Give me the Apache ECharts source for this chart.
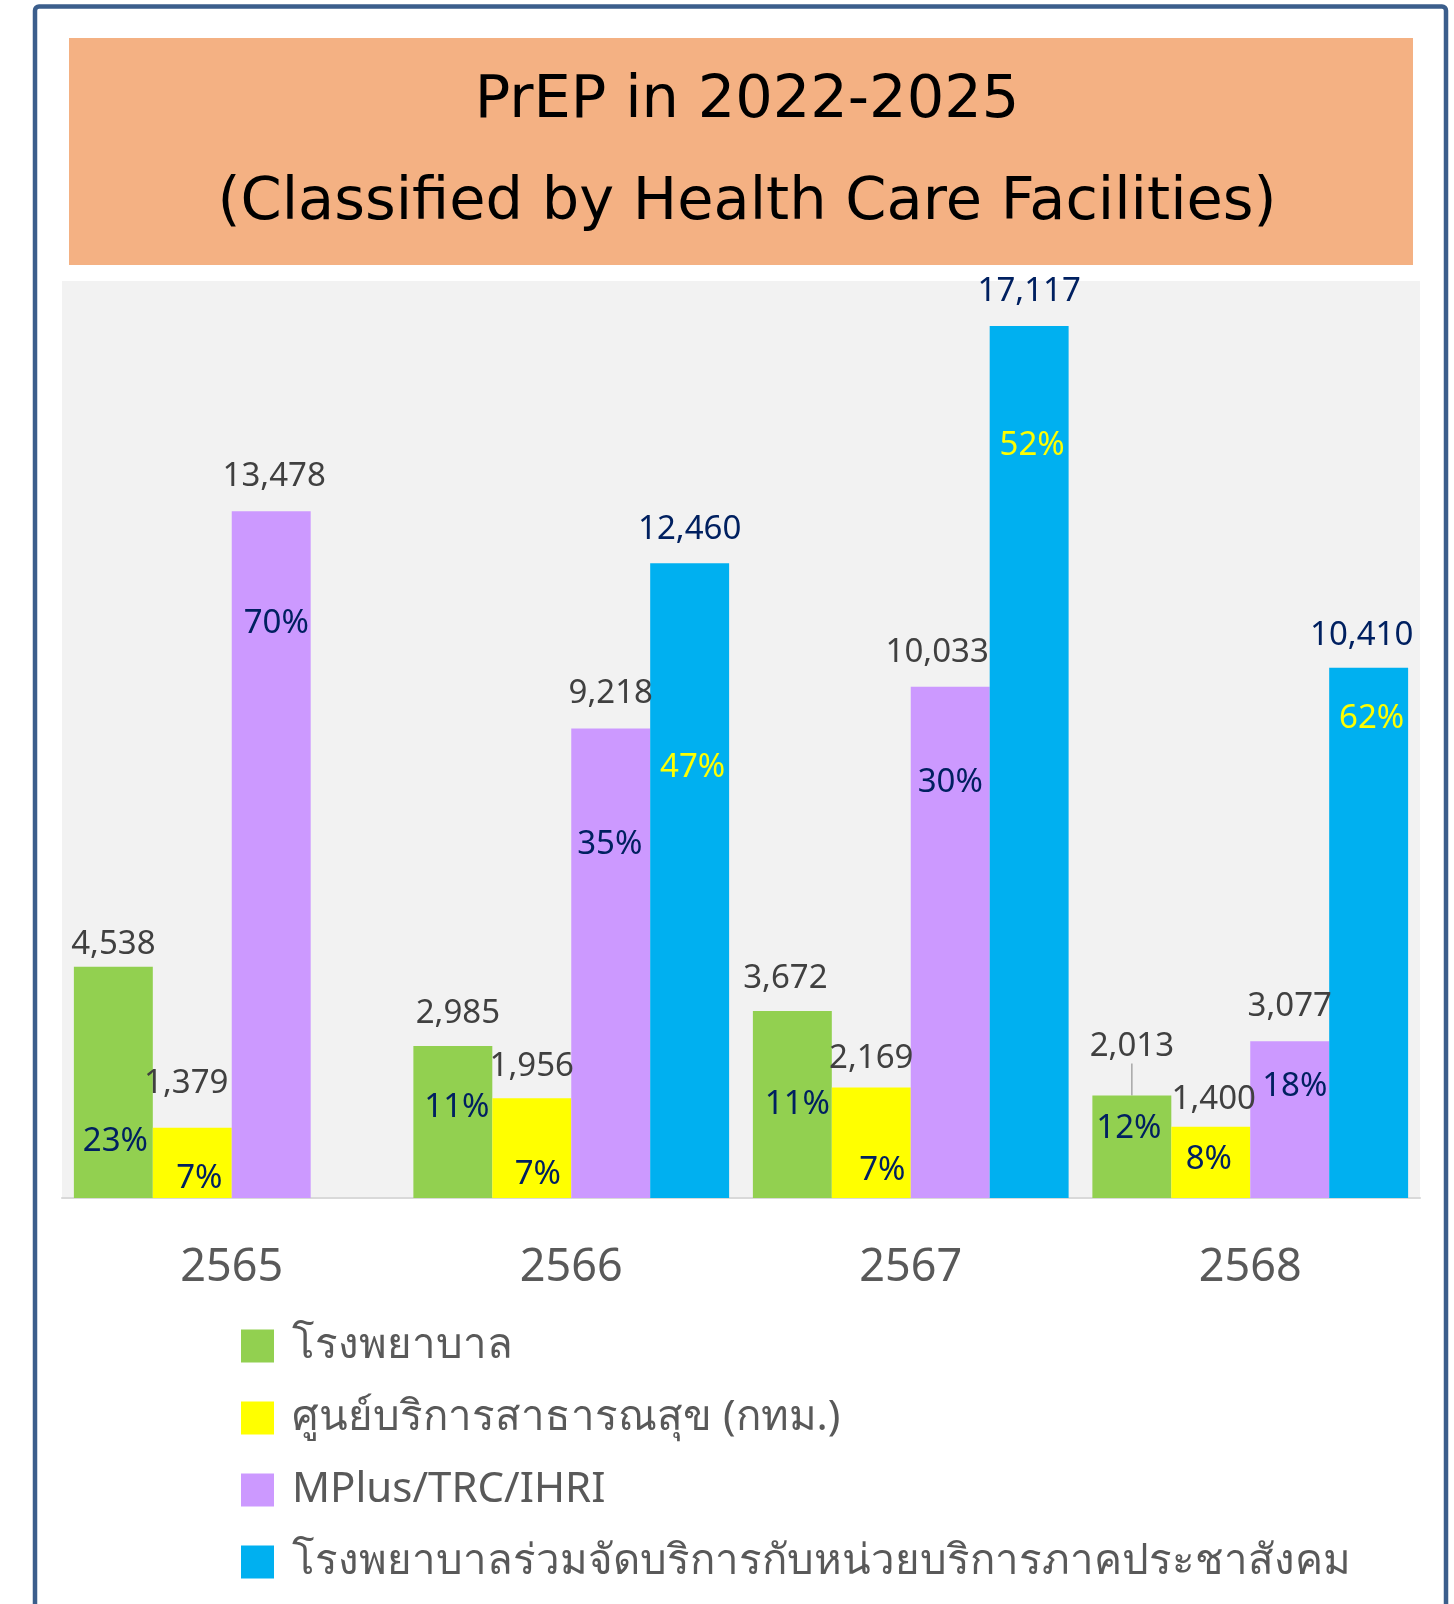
<!DOCTYPE html>
<html><head><meta charset="utf-8">
<script src="https://cdn.jsdelivr.net/npm/echarts@6/dist/echarts.min.js"></script>
<style>html,body{margin:0;padding:0;background:#fff}#c{width:1454px;height:1604px}</style>
</head><body><div id="c"></div>
<script>
// ---- data ----
const categories = ['2565', '2566', '2567', '2568'];
const seriesNames = ['โรงพยาบาล', 'ศูนย์บริการสาธารณสุข (กทม.)', 'MPlus/TRC/IHRI', 'โรงพยาบาลร่วมจัดบริการกับหน่วยบริการภาคประชาสังคม'];
const hospital = [4538, 2985, 3672, 2013];
const bmaCenters = [1379, 1956, 2169, 1400];
const mplus = [13478, 9218, 10033, 3077];
const jointHospital = [null, 12460, 17117, 10410];
const hospitalPct = [23, 11, 11, 12];
const bmaPct = [7, 7, 7, 8];
const mplusPct = [70, 35, 30, 18];
const jointPct = [null, 47, 52, 62];
const titleLines = ['PrEP in 2022-2025', '(Classified by Health Care Facilities)'];

// ---- styling ----
const FONT = "'Noto Sans', 'Open Sans', sans-serif";
const colors = ['#92D050', '#FFFF00', '#CC99FF', '#00B0F0'];
const valueColors = ['#404040', '#404040', '#404040', '#002060'];
const pctColors = ['#002060', '#002060', '#002060', '#FFFF00'];
// label placement tweaks (px) for the callouts
const pctLabelDy = [[175, 62, 94, 33], [51, 76, 83, 33], [112, 116, 96, 45], [0, 204, 120, 51]];
const pctLabelDx = [[2, 4, 5, -3], [7, 6, 11, -2], [5, -1, 0, 5], [0, 3, 3, 3]];
const valueLabelDx = [[0, 5, -7, 0], [-6, 0, 0, 3], [3, 0, -13, 0], [0, 0, 0, -7]];
const valueLabelDy = [[12, 2, 2, -14], [-10, 3, 6, 7], [0, 0, 0, 0], [0, 1, 0, 2]];
const leaderLabel = { s: 0, i: 3 };

const values = [hospital, bmaCenters, mplus, jointHospital];
const pcts = [hospitalPct, bmaPct, mplusPct, jointPct];

const barCommon = { type: 'bar', barGap: '0%', barCategoryGap: '7%', yAxisIndex: 0 };

const series = [];
values.forEach((arr, s) => {
  series.push(Object.assign({}, barCommon, {
    name: seriesNames[s],
    xAxisIndex: 0,
    itemStyle: { color: colors[s] },
    data: arr.map((v, i) => {
      const item = { value: v };
      if (leaderLabel.s === s && leaderLabel.i === i) {
        item.labelLine = { show: true, lineStyle: { color: '#A6A6A6', width: 1.5 } };
      }
      return item;
    }),
    label: {
      show: true, position: 'top', distance: 18,
      fontSize: 33, fontFamily: FONT, color: valueColors[s],
      formatter: p => p.value == null ? '' : Number(p.value).toLocaleString('en-US')
    },
    labelLayout: p => ({ dx: valueLabelDx[s][p.dataIndex], dy: valueLabelDy[s][p.dataIndex] }),
    z: 2
  }));
});
values.forEach((arr, s) => {
  series.push(Object.assign({}, barCommon, {
    name: 'pct' + s,
    xAxisIndex: 1,
    silent: true,
    itemStyle: { color: 'rgba(0,0,0,0)' },
    data: arr.map((v, i) => ({ value: v, label: { position: ['50%', pctLabelDy[s][i]], offset: [pctLabelDx[s][i], 0] } })),
    label: {
      show: true, align: 'center', verticalAlign: 'middle',
      fontSize: 33, fontFamily: FONT, color: pctColors[s],
      formatter: p => pcts[s][p.dataIndex] == null ? '' : pcts[s][p.dataIndex] + '%'
    },
    z: 3
  }));
});

const chart = echarts.init(document.getElementById('c'), null, { renderer: 'canvas' });
chart.setOption({
  backgroundColor: '#FFFFFF',
  animation: false,
  graphic: [
    { type: 'rect', z: 0, shape: { x: 35, y: 6.5, width: 1411, height: 1700, r: 4 },
      style: { fill: 'none', stroke: '#3B5E8C', lineWidth: 4.5 } },
    { type: 'rect', z: 0, shape: { x: 69, y: 38, width: 1344, height: 227 },
      style: { fill: '#F4B183' } }
  ],
  title: {
    text: titleLines.join('\n'),
    left: 742, top: 46, textAlign: 'center', z: 10,
    textStyle: { fontSize: 59, fontFamily: "'DejaVu Sans', 'Liberation Sans', sans-serif", fontWeight: 'normal', color: '#000000', lineHeight: 102 }
  },
  legend: {
    data: seriesNames,
    orient: 'vertical', left: 236, top: 1316,
    itemWidth: 33, itemHeight: 33, itemGap: 22, icon: 'rect',
    textStyle: { fontSize: 42, fontFamily: FONT, color: '#595959', lineHeight: 50, padding: [0, 0, 0, 13] }
  },
  grid: { left: 62, right: 34, top: 281, bottom: 406, show: true, backgroundColor: '#F2F2F2', borderWidth: 0 },
  xAxis: [
    { type: 'category', data: categories,
      axisLine: { lineStyle: { color: '#D9D9D9', width: 2 } },
      axisTick: { show: false },
      axisLabel: { fontSize: 45, fontFamily: FONT, color: '#595959', margin: 48 } },
    { type: 'category', data: categories, show: false }
  ],
  yAxis: { type: 'value', min: 0, max: 18000, show: false, splitLine: { show: false } },
  series: series
});
</script></body></html>
